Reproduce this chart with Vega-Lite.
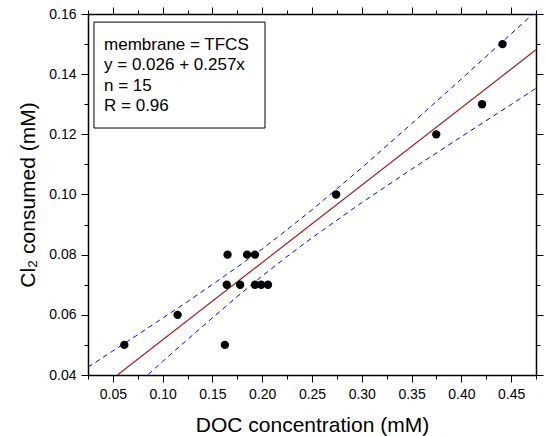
{
  "$schema": "https://vega.github.io/schema/vega-lite/v6.json",
  "width": 448,
  "height": 361,
  "autosize": "none",
  "padding": {"left": 88, "top": 14, "right": 9, "bottom": 61},
  "background": "white",
  "config": {
    "view": {"stroke": null},
    "axis": {
      "grid": false,
      "domainColor": "black",
      "domainWidth": 1.5,
      "tickColor": "black",
      "tickWidth": 1,
      "labelColor": "black",
      "labelFont": "Liberation Sans",
      "labelFontSize": 14,
      "labelPadding": 5,
      "labelFlush": false,
      "labelOverlap": false,
      "titleFont": "Liberation Sans",
      "titleFontSize": 21,
      "titleFontWeight": "normal",
      "titleColor": "black"
    }
  },
  "datasets": {
    "points": [
      {"doc": 0.0615, "cl2": 0.05},
      {"doc": 0.115, "cl2": 0.06},
      {"doc": 0.1625, "cl2": 0.05},
      {"doc": 0.1644, "cl2": 0.07},
      {"doc": 0.1652, "cl2": 0.08},
      {"doc": 0.1778, "cl2": 0.07},
      {"doc": 0.1848, "cl2": 0.08},
      {"doc": 0.1927, "cl2": 0.08},
      {"doc": 0.1927, "cl2": 0.07},
      {"doc": 0.199, "cl2": 0.07},
      {"doc": 0.2058, "cl2": 0.07},
      {"doc": 0.2742, "cl2": 0.10},
      {"doc": 0.3748, "cl2": 0.12},
      {"doc": 0.4208, "cl2": 0.13},
      {"doc": 0.4414, "cl2": 0.15}
    ],
    "fit": [
      {"doc": 0.025, "cl2": 0.0324},
      {"doc": 0.475, "cl2": 0.1481}
    ],
    "bands": [
      {"bound": "upper", "doc": 0.025, "cl2": 0.0426},
      {"bound": "upper", "doc": 0.05, "cl2": 0.0480},
      {"bound": "upper", "doc": 0.075, "cl2": 0.0534},
      {"bound": "upper", "doc": 0.1, "cl2": 0.0589},
      {"bound": "upper", "doc": 0.125, "cl2": 0.0644},
      {"bound": "upper", "doc": 0.15, "cl2": 0.0701},
      {"bound": "upper", "doc": 0.175, "cl2": 0.0759},
      {"bound": "upper", "doc": 0.2, "cl2": 0.0819},
      {"bound": "upper", "doc": 0.225, "cl2": 0.0883},
      {"bound": "upper", "doc": 0.25, "cl2": 0.0949},
      {"bound": "upper", "doc": 0.3, "cl2": 0.1089},
      {"bound": "upper", "doc": 0.35, "cl2": 0.1235},
      {"bound": "upper", "doc": 0.4, "cl2": 0.1384},
      {"bound": "upper", "doc": 0.45, "cl2": 0.1534},
      {"bound": "upper", "doc": 0.475, "cl2": 0.1609},
      {"bound": "lower", "doc": 0.025, "cl2": 0.0222},
      {"bound": "lower", "doc": 0.05, "cl2": 0.0297},
      {"bound": "lower", "doc": 0.075, "cl2": 0.0371},
      {"bound": "lower", "doc": 0.1, "cl2": 0.0445},
      {"bound": "lower", "doc": 0.125, "cl2": 0.0518},
      {"bound": "lower", "doc": 0.15, "cl2": 0.0590},
      {"bound": "lower", "doc": 0.175, "cl2": 0.0661},
      {"bound": "lower", "doc": 0.2, "cl2": 0.0729},
      {"bound": "lower", "doc": 0.225, "cl2": 0.0794},
      {"bound": "lower", "doc": 0.25, "cl2": 0.0856},
      {"bound": "lower", "doc": 0.3, "cl2": 0.0973},
      {"bound": "lower", "doc": 0.35, "cl2": 0.1084},
      {"bound": "lower", "doc": 0.4, "cl2": 0.1192},
      {"bound": "lower", "doc": 0.45, "cl2": 0.1299},
      {"bound": "lower", "doc": 0.475, "cl2": 0.1353}
    ]
  },
  "resolve": {"axis": {"x": "independent", "y": "independent"}},
  "layer": [
    {
      "data": {"name": "bands"},
      "mark": {"type": "line", "clip": true, "color": "#0000ff", "strokeWidth": 1, "strokeDash": [5, 4]},
      "encoding": {
        "x": {"field": "doc", "type": "quantitative", "scale": {"domain": [0.025, 0.475], "nice": false, "zero": false},
              "axis": {"orient": "bottom", "values": [0.025, 0.075, 0.125, 0.175, 0.225, 0.275, 0.325, 0.375, 0.425, 0.475], "labels": false, "domain": false, "tickSize": 4, "title": null}},
        "y": {"field": "cl2", "type": "quantitative", "scale": {"domain": [0.04, 0.16], "nice": false, "zero": false},
              "axis": {"orient": "left", "values": [0.05, 0.07, 0.09, 0.11, 0.13, 0.15], "labels": false, "domain": false, "tickSize": 4, "title": null}},
        "detail": {"field": "bound", "type": "nominal"}
      }
    },
    {
      "data": {"name": "fit"},
      "mark": {"type": "line", "clip": true, "color": "#a01c1c", "strokeWidth": 1.2},
      "encoding": {
        "x": {"field": "doc", "type": "quantitative", "scale": {"domain": [0.025, 0.475], "nice": false, "zero": false},
              "axis": {"orient": "top", "values": [0.025, 0.075, 0.125, 0.175, 0.225, 0.275, 0.325, 0.375, 0.425, 0.475], "labels": false, "domain": false, "tickSize": 4, "title": null}},
        "y": {"field": "cl2", "type": "quantitative", "scale": {"domain": [0.04, 0.16], "nice": false, "zero": false},
              "axis": {"orient": "right", "values": [0.05, 0.07, 0.09, 0.11, 0.13, 0.15], "labels": false, "domain": false, "tickSize": 4, "title": null}}
      }
    },
    {
      "data": {"values": [{}]},
      "mark": {"type": "rect", "fill": "white", "stroke": "black", "strokeWidth": 1},
      "encoding": {
        "x": {"datum": 0.031, "type": "quantitative", "scale": {"domain": [0.025, 0.475], "nice": false, "zero": false},
              "axis": {"orient": "top", "values": [0.05, 0.1, 0.15, 0.2, 0.25, 0.3, 0.35, 0.4, 0.45], "labels": false, "tickSize": 7, "title": null}},
        "x2": {"datum": 0.2028},
        "y": {"datum": 0.1573, "type": "quantitative", "scale": {"domain": [0.04, 0.16], "nice": false, "zero": false},
              "axis": {"orient": "right", "values": [0.04, 0.06, 0.08, 0.1, 0.12, 0.14, 0.16], "labels": false, "tickSize": 7, "title": null}},
        "y2": {"datum": 0.1221}
      }
    },
    {
      "data": {"values": [{}]},
      "mark": {"type": "text", "text": ["membrane = TFCS", "y = 0.026 + 0.257x", "n = 15", "R = 0.96"], "font": "Liberation Sans", "fontSize": 17, "lineHeight": 20.5, "align": "left", "baseline": "alphabetic", "color": "black"},
      "encoding": {
        "x": {"datum": 0.0411, "type": "quantitative", "scale": {"domain": [0.025, 0.475], "nice": false, "zero": false}, "axis": null},
        "y": {"datum": 0.1481, "type": "quantitative", "scale": {"domain": [0.04, 0.16], "nice": false, "zero": false}, "axis": null}
      }
    },
    {
      "data": {"name": "points"},
      "mark": {"type": "circle", "size": 70, "color": "black", "opacity": 1},
      "encoding": {
        "x": {"field": "doc", "type": "quantitative", "scale": {"domain": [0.025, 0.475], "nice": false, "zero": false},
              "axis": {"orient": "bottom", "values": [0.05, 0.1, 0.15, 0.2, 0.25, 0.3, 0.35, 0.4, 0.45], "format": ".2f", "tickSize": 7, "title": "DOC concentration (mM)", "titlePadding": 13}},
        "y": {"field": "cl2", "type": "quantitative", "scale": {"domain": [0.04, 0.16], "nice": false, "zero": false},
              "axis": {"orient": "left", "values": [0.04, 0.06, 0.08, 0.1, 0.12, 0.14, 0.16], "format": ".2f", "tickSize": 7, "title": "Cl₂ consumed (mM)", "titlePadding": 10}}
      }
    }
  ]
}
